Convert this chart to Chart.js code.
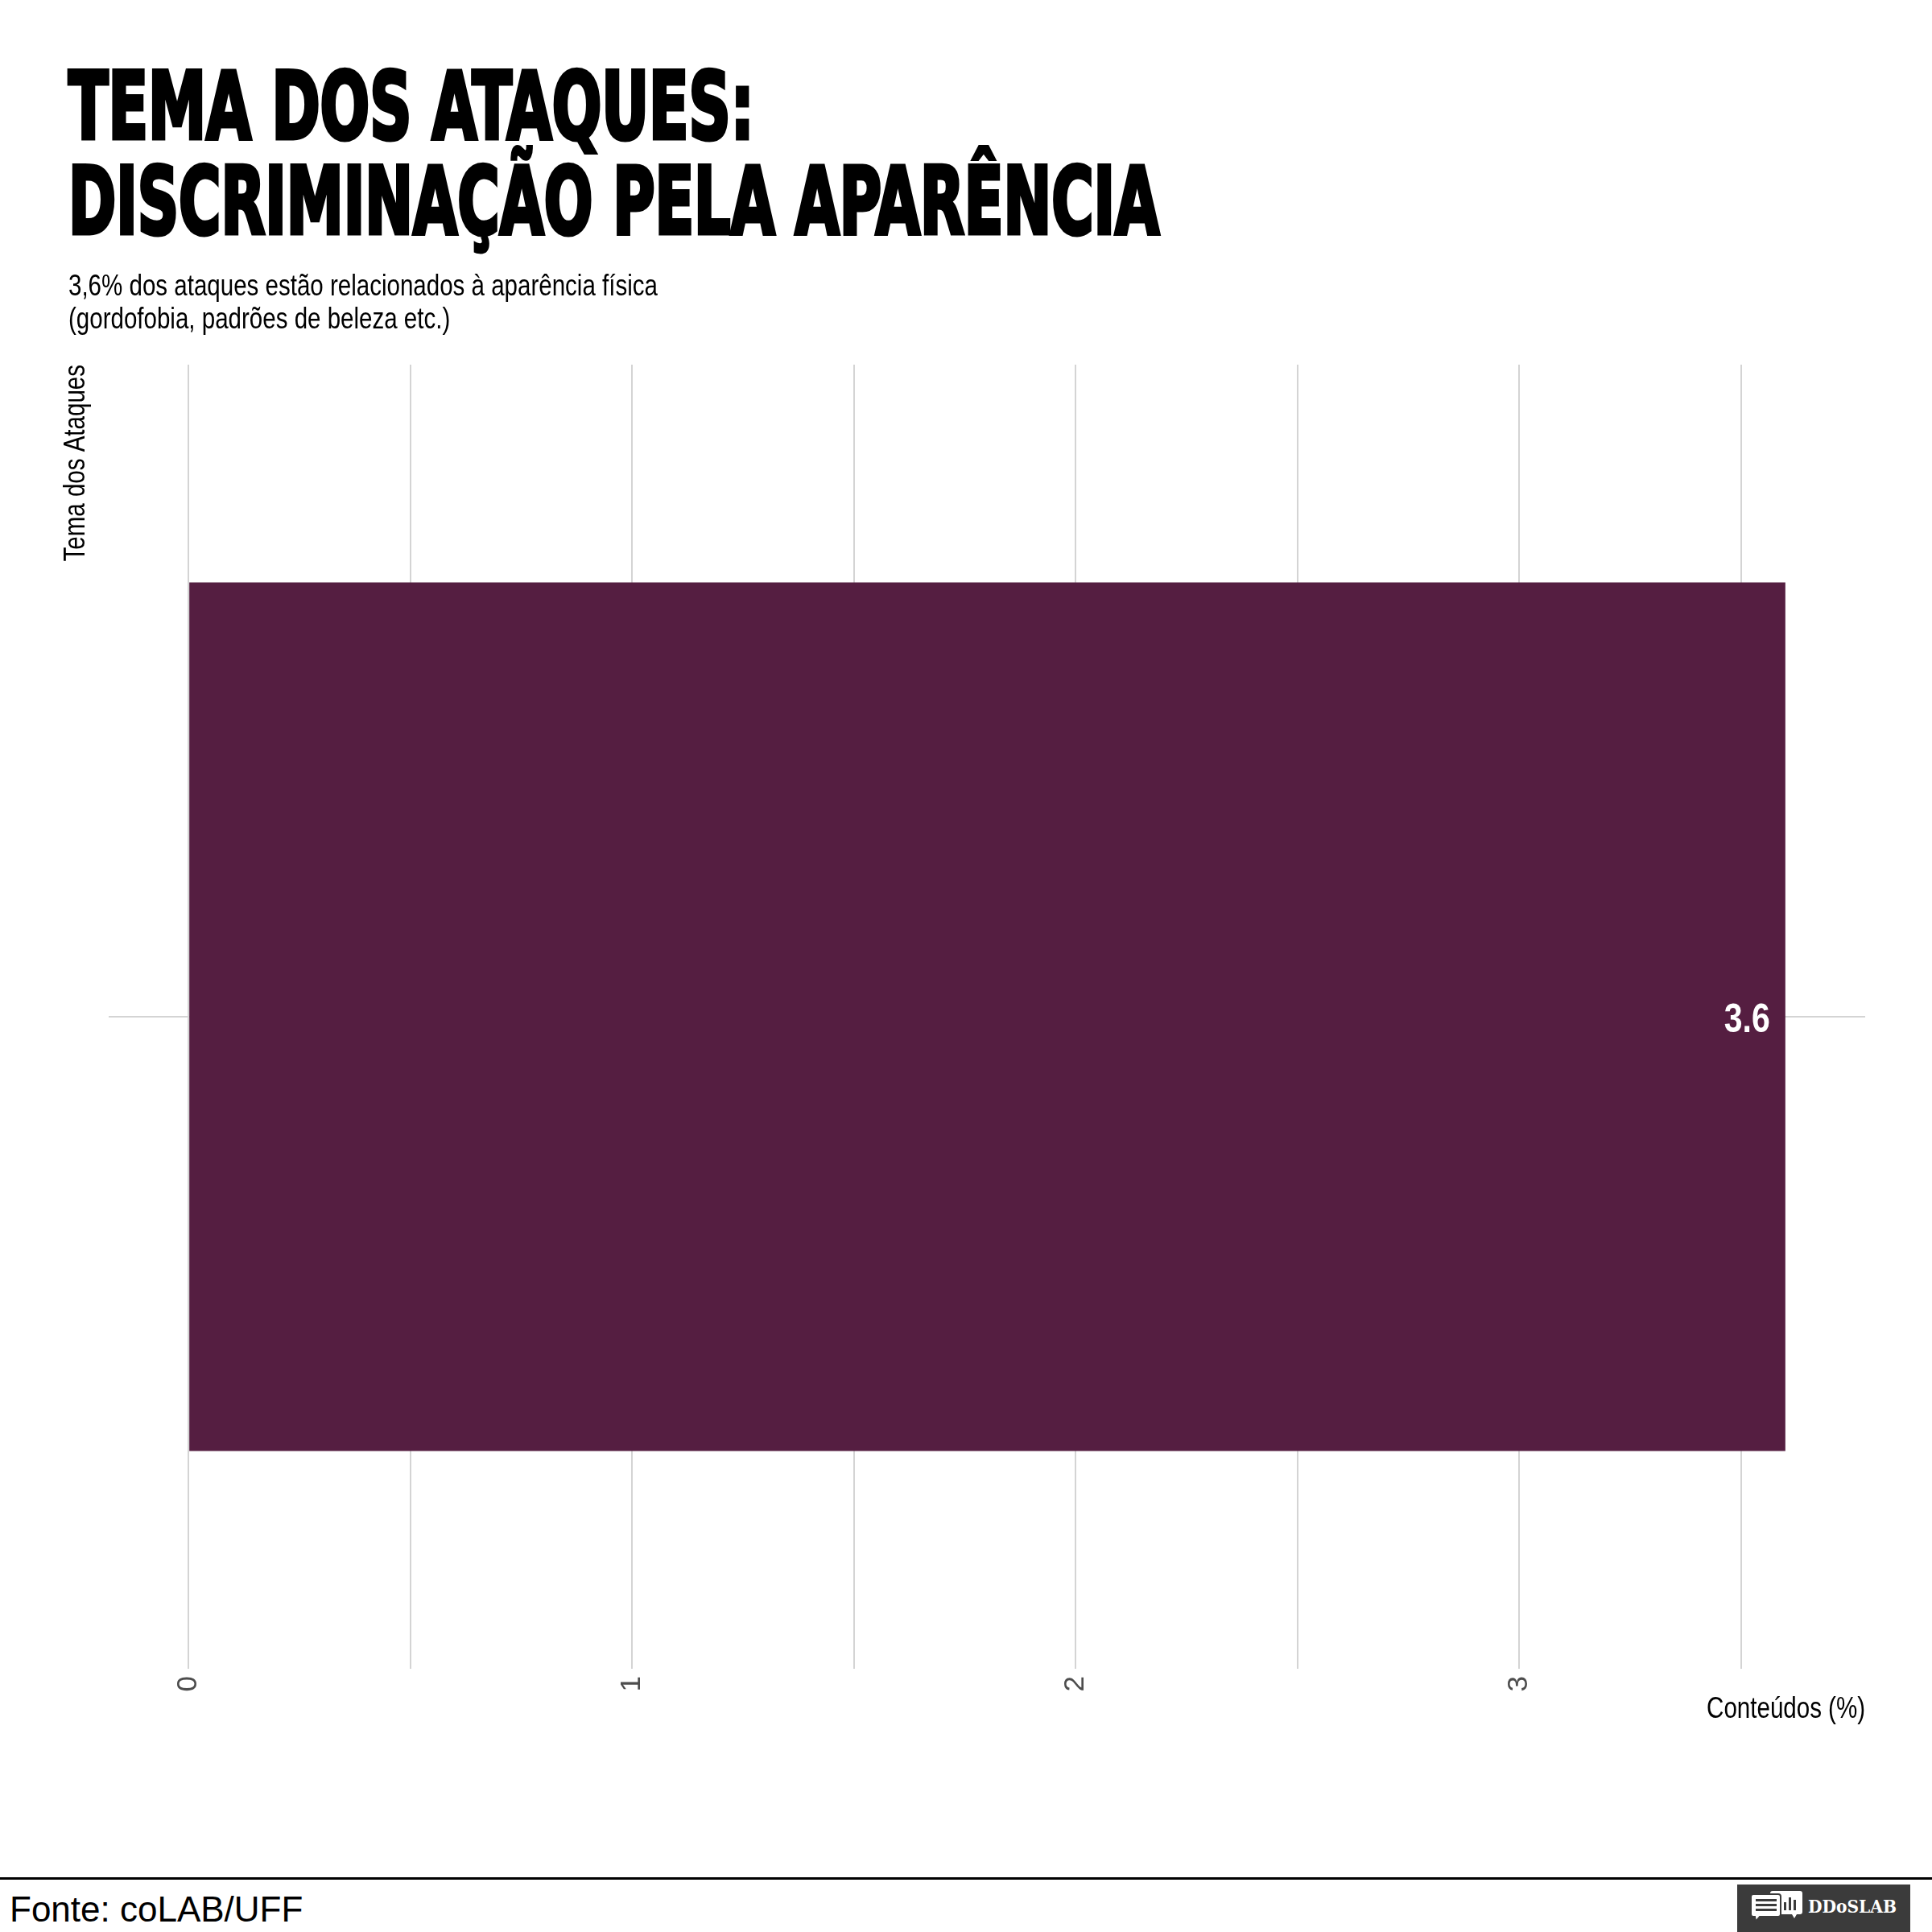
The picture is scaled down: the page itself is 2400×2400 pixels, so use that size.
<!DOCTYPE html>
<html>
<head>
<meta charset="utf-8">
<script src="https://cdn.jsdelivr.net/npm/chart.js@4.4.1/dist/chart.umd.min.js"></script>
<style>
html,body{margin:0;padding:0;background:#fff;}
#wrap{position:relative;width:2400px;height:2400px;overflow:hidden;background:#fff;}
.t{position:absolute;white-space:nowrap;}
.title{left:85px;font-family:'DejaVu Sans Condensed','Liberation Sans',sans-serif;font-weight:bold;font-size:116px;line-height:116px;color:#000;-webkit-text-stroke:5px #000;transform-origin:0 0;}
.sub{left:85px;font-family:'Liberation Sans',Arial,sans-serif;font-size:36px;line-height:41px;color:#000;transform:scaleX(0.82);transform-origin:0 0;}
</style>
</head>
<body>
<div id="wrap">
<canvas id="c" width="2400" height="2300" style="position:absolute;left:0;top:0;width:2400px;height:2300px;"></canvas>
<div class="t title" id="t1" style="top:74px">TEMA DOS ATAQUES:</div>
<div class="t title" id="t2" style="top:192px">DISCRIMINAÇÃO PELA APARÊNCIA</div>
<div class="t sub" style="top:334px">3,6% dos ataques estão relacionados à aparência física<br>(gordofobia, padrões de beleza etc.)</div>
<div style="position:absolute;left:0;top:2332px;width:2400px;height:3px;background:#000"></div>
<div class="t" style="left:12px;top:2350px;font-family:'Liberation Sans',Arial,sans-serif;font-size:44px;line-height:44px;color:#000">Fonte: coLAB/UFF</div>
<svg style="position:absolute;left:2158px;top:2341px" width="215" height="59" viewBox="0 0 215 59">
  <rect x="0" y="0" width="215" height="59" fill="#3b3b3b"/>
  <path d="M44 8 h34 a3 3 0 0 1 3 3 v23 a3 3 0 0 1 -3 3 h-4 l-3 5 l-3 -5 h-24 a3 3 0 0 1 -3 -3 v-23 a3 3 0 0 1 3 -3 z" fill="#fff"/>
  <rect x="58" y="22" width="3" height="10" fill="#3b3b3b"/>
  <rect x="64" y="16" width="3" height="16" fill="#3b3b3b"/>
  <rect x="70" y="19" width="3" height="13" fill="#3b3b3b"/>
  <path d="M20 12 h31 a3 3 0 0 1 3 3 v22 a3 3 0 0 1 -3 3 h-23 l-5 6 l-1 -6 h-2 a3 3 0 0 1 -3 -3 v-22 a3 3 0 0 1 3 -3 z" fill="#fff" stroke="#3b3b3b" stroke-width="2"/>
  <rect x="23" y="18" width="26" height="3" fill="#3b3b3b"/>
  <rect x="23" y="24" width="26" height="3" fill="#3b3b3b"/>
  <rect x="23" y="30" width="26" height="3" fill="#3b3b3b"/>
  <text x="88" y="35" fill="#fff" font-family="'DejaVu Serif',serif" font-weight="bold" font-size="22" textLength="110" lengthAdjust="spacingAndGlyphs">DDoSLAB</text>
</svg>
</div>
<script>
// ---- data ----
const categories = ['Discriminação pela aparência'];
const values = [3.6];
const xTickValues = [0, 0.5, 1, 1.5, 2, 2.5, 3, 3.5];
const xAxisTitle = 'Conteúdos (%)';
const yAxisTitle = 'Tema dos Ataques';

const SANS = "'Liberation Sans',Arial,sans-serif";
const NARROW_SCALE = 0.82;
const BAR_COLOR = '#551E41';
const GRID_COLOR = '#d4d4d4';

function fitTitle(id, targetRight) {
  const el = document.getElementById(id);
  const w = el.offsetWidth;
  el.style.transform = 'scaleX(' + ((targetRight - 85) / w) + ')';
}
fitTitle('t1', 937);
fitTitle('t2', 1440);

// value labels + narrow axis titles, positioned from the chart's own scales/elements
const textPlugin = {
  id: 'narrowTexts',
  afterDatasetsDraw(chart) {
    const ctx = chart.ctx;
    const meta = chart.getDatasetMeta(0);
    meta.data.forEach((bar, i) => {
      ctx.save();
      ctx.translate(bar.x - 19, bar.y + 19);
      ctx.scale(NARROW_SCALE, 1);
      ctx.fillStyle = '#ffffff';
      ctx.font = 'bold 50px ' + SANS;
      ctx.textAlign = 'right';
      ctx.textBaseline = 'alphabetic';
      ctx.fillText(values[i].toFixed(1), 0, 0);
      ctx.restore();
    });
  },
  afterDraw(chart) {
    const { ctx, scales: { x, y } } = chart;
    ctx.save();
    ctx.fillStyle = '#000';
    ctx.font = '36px ' + SANS;
    ctx.textAlign = 'right';
    ctx.textBaseline = 'alphabetic';
    ctx.translate(x.right, x.top + 61);
    ctx.scale(NARROW_SCALE, 1);
    ctx.fillText(xAxisTitle, 0, 0);
    ctx.restore();

    ctx.save();
    ctx.fillStyle = '#000';
    ctx.font = '36px ' + SANS;
    ctx.textAlign = 'right';
    ctx.textBaseline = 'middle';
    ctx.translate(y.left + 95, y.top);
    ctx.rotate(-Math.PI / 2);
    ctx.scale(NARROW_SCALE, 1);
    ctx.fillText(yAxisTitle, 0, 0);
    ctx.restore();
  }
};

new Chart(document.getElementById('c'), {
  type: 'bar',
  data: {
    labels: categories,
    datasets: [{
      data: values,
      backgroundColor: BAR_COLOR,
      borderWidth: 0,
      categoryPercentage: 1,
      barPercentage: 0.666
    }]
  },
  options: {
    indexAxis: 'y',
    responsive: false,
    animation: false,
    devicePixelRatio: 1,
    layout: { padding: { top: 453, right: 83, left: 0, bottom: 107 } },
    plugins: { legend: { display: false }, tooltip: { enabled: false } },
    scales: {
      x: {
        type: 'linear',
        position: 'bottom',
        min: -0.18,
        max: 3.78,
        afterBuildTicks: (s) => { s.ticks = xTickValues.map(v => ({ value: v })); },
        afterFit: (s) => { s.height = 120; },
        ticks: {
          autoSkip: false,
          minRotation: 90,
          maxRotation: 90,
          padding: 9,
          color: '#4d4d4d',
          font: { family: SANS, size: 35 },
          callback: (v) => Number.isInteger(v) ? String(v) : ''
        },
        grid: { color: GRID_COLOR, lineWidth: 2, drawTicks: false },
        border: { display: false },
        title: { display: false, text: xAxisTitle }
      },
      y: {
        type: 'category',
        afterFit: (s) => { s.width = 135; },
        ticks: { display: false },
        grid: { offset: false, color: GRID_COLOR, lineWidth: 2, drawTicks: false },
        border: { display: false },
        title: { display: false, text: yAxisTitle }
      }
    }
  },
  plugins: [textPlugin]
});
</script>
</body>
</html>
